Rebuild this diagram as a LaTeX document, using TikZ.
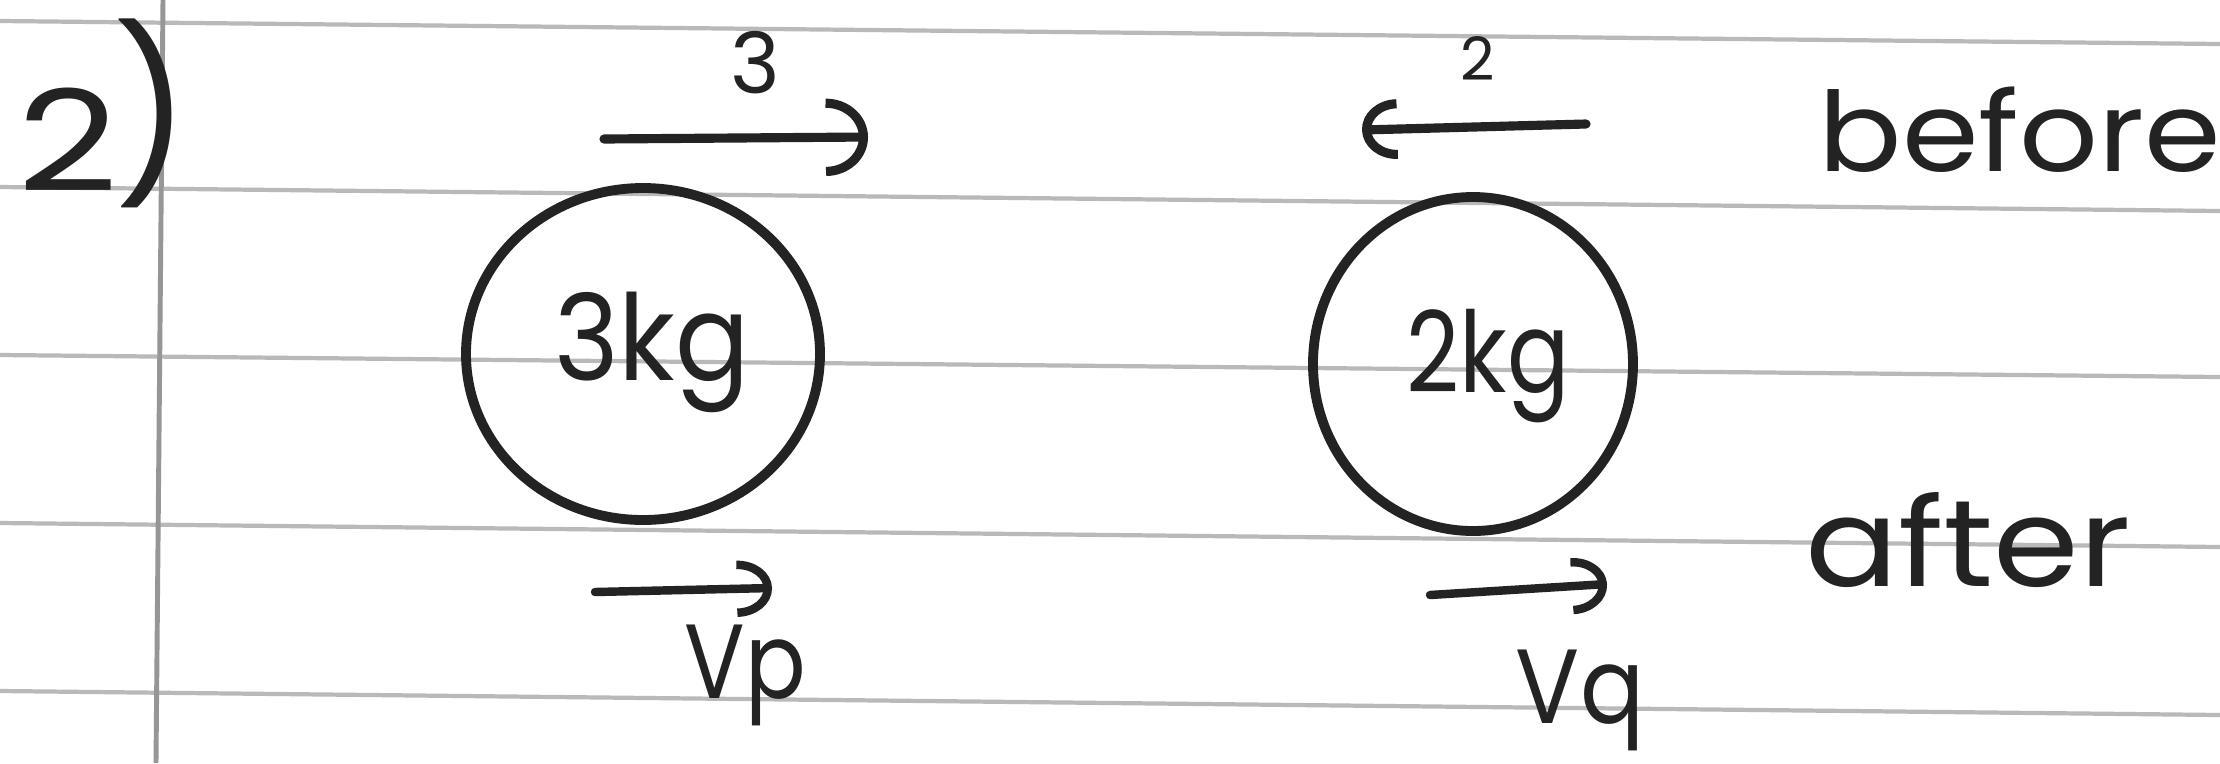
\documentclass[tikz,border=0pt]{standalone}
\usepackage{fontspec}
\setmainfont{Poppins}
\usetikzlibrary{arrows.meta}
\definecolor{ink}{RGB}{35,35,35}
\definecolor{rule}{RGB}{185,185,185}
\definecolor{margin}{RGB}{150,150,150}
\tikzset{
  ruled/.style={draw=rule, line width=1.2pt},
  marginline/.style={draw=margin, line width=1.4pt},
  ball/.style={draw=ink, line width=2.8pt},
  velbig/.style={draw=ink, line width=2.6pt, line cap=round, -{Arc Barb[length=12pt,width=22pt,line width=2.6pt]}},
  velmid/.style={draw=ink, line width=2.6pt, line cap=round, -{Arc Barb[length=10pt,width=17pt,line width=2.6pt]}},
  velsmall/.style={draw=ink, line width=2.4pt, line cap=round, -{Arc Barb[length=10pt,width=16pt,line width=2.4pt]}},
  txt/.style={text=ink, inner sep=0pt},
}
\begin{document}
\begin{tikzpicture}[x=0.01cm, y=-0.01cm]
\useasboundingbox[fill=white] (0,0) rectangle (2220,763);
% ruled paper
\draw[ruled] (0,21) -- (2220,44);
\draw[ruled] (0,187) -- (2220,211);
\draw[ruled] (0,355) -- (2220,377);
\draw[ruled] (0,523) -- (2220,547);
\draw[ruled] (0,691) -- (2220,715);
\draw[marginline] (163,0) -- (156,763);
% question number
\node[txt, font=\fontsize{40}{40}\selectfont] (qnum) at (68,140) {\scalebox{1.25}[1]{2}};
\node[txt, font=\fontsize{48}{48}\selectfont] (qpar) at (152,113) {)};
% balls
\draw[ball] (643,354) ellipse [x radius=177, y radius=166];
\node[txt, font=\fontsize{34}{34}\selectfont] (m1) at (652,352) {\scalebox{0.92}[1]{3kg}};
\draw[ball] (1473,364) ellipse [x radius=160, y radius=167];
\node[txt, font=\fontsize{32}{32}\selectfont] (m2) at (1488,366) {\scalebox{0.82}[1]{2kg}};
% before arrows
\coordinate (a1s) at (604,139);
\coordinate (a1e) at (868,137);
\draw[velbig] (a1s) -- (a1e);
\node[txt, font=\fontsize{24}{24}\selectfont] (l3) at (755,63) {3};
\coordinate (a2s) at (1586,124);
\coordinate (a2e) at (1362,130);
\draw[velmid] (a2s) -- (a2e);
\node[txt, font=\fontsize{17}{17}\selectfont] (l2) at (1478,58) {2};
% after arrows
\coordinate (b1s) at (595,592);
\coordinate (b1e) at (772,588);
\draw[velsmall] (b1s) -- (b1e);
\node[txt, font=\fontsize{30}{30}\selectfont] (vp) at (745,675) {\scalebox{0.85}[1]{Vp}};
\coordinate (b2s) at (1430,595);
\coordinate (b2e) at (1607,584);
\draw[velsmall] (b2s) -- (b2e);
\node[txt, font=\fontsize{30}{30}\selectfont] (vq) at (1580,700) {\scalebox{0.9}[1]{Vq}};
% labels
\node[txt, font=\fontsize{30}{30}\selectfont] (before) at (2020,130) {\scalebox{1.17}[1.05]{before}};
\node[txt, font=\fontsize{35}{35}\selectfont] (after) at (1968,540) {\scalebox{1.12}[1]{after}};
\end{tikzpicture}
\end{document}
